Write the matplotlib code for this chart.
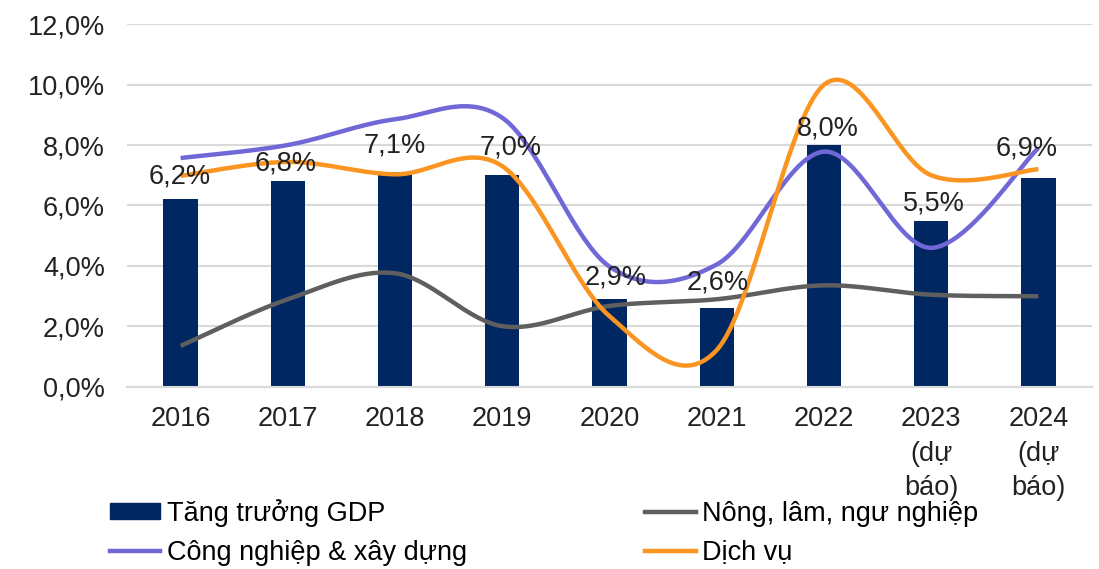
import numpy as np
import matplotlib.pyplot as plt
from matplotlib.patches import Patch
from matplotlib.lines import Line2D

plt.rcParams["font.family"] = ["Liberation Sans", "DejaVu Sans"]

years = ["2016", "2017", "2018", "2019", "2020", "2021", "2022",
         "2023\n(dự\nbáo)", "2024\n(dự\nbáo)"]
gdp = [6.2, 6.8, 7.1, 7.0, 2.9, 2.6, 8.0, 5.5, 6.9]
gdp_labels = ["6,2%", "6,8%", "7,1%", "7,0%", "2,9%", "2,6%", "8,0%", "5,5%", "6,9%"]
nong_lam = [1.36, 2.9, 3.76, 2.01, 2.68, 2.9, 3.36, 3.05, 3.0]
cong_nghiep = [7.57, 8.0, 8.85, 8.9, 3.98, 4.05, 7.78, 4.6, 7.9]
dich_vu = [6.98, 7.44, 7.03, 7.3, 2.34, 1.22, 9.99, 7.0, 7.2]

c_bar = "#002761"
c_gray = "#5f5f5f"
c_purple = "#7068d6"
c_orange = "#fa9521"


def smooth(y, n=40):
    # excel-like smoothed line (catmull-rom bezier between the points)
    x = np.arange(len(y), dtype=float)
    p = np.column_stack([x, np.asarray(y, dtype=float)])
    p = np.vstack([p[0], p, p[-1]])
    t = np.linspace(0, 1, n)[:, None]
    xs, ys = [], []
    for i in range(1, len(p) - 2):
        p0, p1, p2, p3 = p[i - 1], p[i], p[i + 1], p[i + 2]
        c1 = p1 + (p2 - p0) / 6
        c2 = p2 - (p3 - p1) / 6
        b = ((1 - t) ** 3) * p1 + 3 * ((1 - t) ** 2) * t * c1 + 3 * (1 - t) * t ** 2 * c2 + t ** 3 * p2
        xs.append(b[:, 0])
        ys.append(b[:, 1])
    return np.concatenate(xs), np.concatenate(ys)


fig = plt.figure(figsize=(10.99, 5.69), dpi=100)
ax = fig.add_axes([0.1156, 0.3199, 0.878, 0.6379])

x = np.arange(len(years))
ax.bar(x, gdp, width=0.32, color=c_bar, zorder=2)
for series, col in [(nong_lam, c_gray), (cong_nghiep, c_purple), (dich_vu, c_orange)]:
    sx, sy = smooth(series)
    ax.plot(sx, sy, color=col, lw=3.2, zorder=3, solid_capstyle="butt")

# label offsets (pixels) from the top of each bar
lab_dx = [-1, -2, 0, 8, 6, 1, 4, 3, -12]
lab_dy = [23, 18, 27, 28, 22, 26, 17, 17, 30]
for xi, v, lab, dx, dy in zip(x, gdp, gdp_labels, lab_dx, lab_dy):
    ax.annotate(lab, (xi, v), xytext=(dx * 0.72, dy * 0.72), textcoords="offset points",
                ha="center", va="center", fontsize=19.5, color="#222222", zorder=4)

ax.set_xlim(-0.5, 8.5)
ax.set_ylim(0, 12)
ax.set_yticks(np.arange(0, 13, 2))
ax.set_yticklabels([f"{v:.1f}%".replace(".", ",") for v in np.arange(0, 13, 2)])
ax.set_xticks(x)
ax.set_xticklabels(years, linespacing=1.42, va="top")
ax.tick_params(axis="both", length=0, labelsize=19.5, colors="#222222")
ax.tick_params(axis="x", pad=14)
ax.tick_params(axis="y", pad=16)
ax.grid(axis="y", color="#d9d9d9", lw=1.5, zorder=0)
for s in ["top", "right", "left"]:
    ax.spines[s].set_visible(False)
ax.spines["bottom"].set_color("#d9d9d9")
ax.spines["bottom"].set_linewidth(1.5)

handles = [
    Patch(color=c_bar),
    Line2D([], [], color=c_purple, lw=3.2),
    Line2D([], [], color=c_gray, lw=3.2),
    Line2D([], [], color=c_orange, lw=3.2),
]
labels = ["Tăng trưởng GDP", "Công nghiệp & xây dựng",
          "Nông, lâm, ngư nghiệp", "Dịch vụ"]
fig.legend(handles, labels, ncol=2, loc="upper left", bbox_to_anchor=(0.090, 0.142),
           bbox_transform=fig.transFigure, frameon=False, fontsize=19.5,
           handlelength=1.85, handleheight=0.55, handletextpad=0.25,
           columnspacing=6.6, labelspacing=0.48, borderaxespad=0)

fig.savefig("out.png", dpi=100)
